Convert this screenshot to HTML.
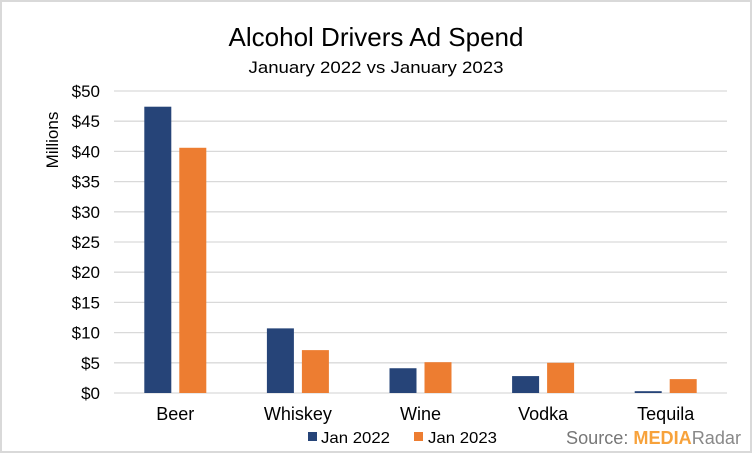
<!DOCTYPE html>
<html><head><meta charset="utf-8"><style>
body{margin:0;background:#fff}
svg{display:block;font-family:"Liberation Sans",Calibri,sans-serif}
</style></head><body>
<svg id="c" width="752" height="453">
<rect x="1" y="1" width="750" height="451" fill="#fff" stroke="#d9d9d9" stroke-width="2"/>
<text x="376" y="46" text-anchor="middle" font-size="26" fill="#000" textLength="295" lengthAdjust="spacingAndGlyphs">Alcohol Drivers Ad Spend</text>
<text x="376" y="73" text-anchor="middle" font-size="17" fill="#000" textLength="255" lengthAdjust="spacingAndGlyphs">January 2022 vs January 2023</text>
<text transform="translate(58,140) rotate(-90)" text-anchor="middle" font-size="17" fill="#000">Millions</text>
<g id="grid"></g><g id="bars"></g><g id="xl"></g>
<g>
<rect x="308" y="432" width="9" height="9" fill="#264478"/>
<text x="321" y="443" font-size="16" fill="#000" textLength="69" lengthAdjust="spacingAndGlyphs">Jan 2022</text>
<rect x="414" y="432" width="9" height="9" fill="#ed7d31"/>
<text x="428" y="443" font-size="16" fill="#000" textLength="69" lengthAdjust="spacingAndGlyphs">Jan 2023</text>
</g>
<text x="566" y="444" font-size="18" fill="#777" textLength="175" lengthAdjust="spacingAndGlyphs">Source: <tspan fill="#f7a23b" font-weight="bold">MEDIA</tspan><tspan fill="#888">Radar</tspan></text>
</svg>
<script>
const categories=["Beer","Whiskey","Wine","Vodka","Tequila"];
const jan2022=[47.4,10.7,4.1,2.8,0.3];
const jan2023=[40.6,7.1,5.1,5.0,2.3];
const ticks=[0,5,10,15,20,25,30,35,40,45,50];
const NS="http://www.w3.org/2000/svg";
const x0=114,x1=727,y0=393,yTop=91,maxV=50;
const y=v=>y0-(v/maxV)*(y0-yTop);
const step=(x1-x0)/categories.length;
const cx=i=>x0+step*(i+0.5);
function mk(t,a,p){const e=document.createElementNS(NS,t);for(const k in a)e.setAttribute(k,a[k]);p.appendChild(e);return e;}
const g=document.getElementById('grid');
ticks.forEach(t=>{
 const l=mk('line',{x1:x0,x2:x1,y1:y(t),y2:y(t),stroke:'#d9d9d9','stroke-width':1.3},g);
 
 
 const tx=mk('text',{x:100,y:y(t)+6,'text-anchor':'end','font-size':17,fill:'#000'},g);
 tx.textContent='$'+t;
 
 
});
const b=document.getElementById('bars'),xl=document.getElementById('xl');
const bw=27,gap=8;
categories.forEach((c,i)=>{
 const r1=mk('rect',{x:cx(i)-gap/2-bw,y:y(jan2022[i]),width:bw,height:y0-y(jan2022[i]),fill:'#264478'},b);
 
 
 const r2=mk('rect',{x:cx(i)+gap/2,y:y(jan2023[i]),width:bw,height:y0-y(jan2023[i]),fill:'#ed7d31'},b);
 
 
 const t=mk('text',{x:cx(i),y:420,'text-anchor':'middle','font-size':18,fill:'#000'},xl);
 t.textContent=c;
 
 
});
</script>
</body></html>
